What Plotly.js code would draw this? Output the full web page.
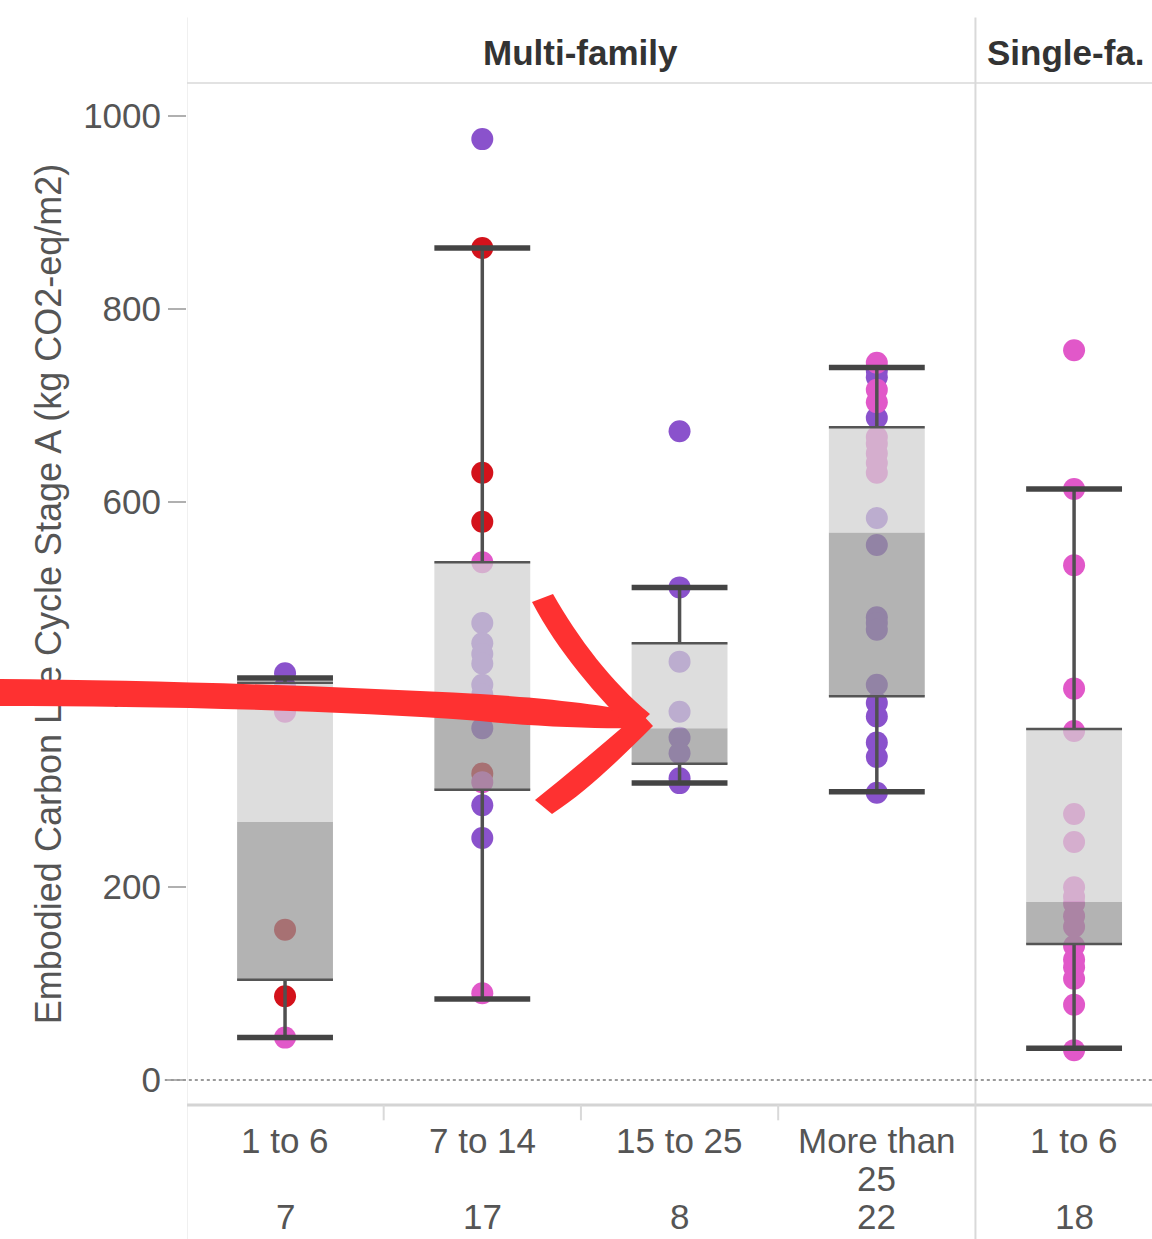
<!DOCTYPE html>
<html>
<head>
<meta charset="utf-8">
<script src="https://cdn.plot.ly/plotly-3.0.1.min.js"></script>
<style>
  html, body { margin: 0; padding: 0; background: #fff; }
  #wrap { position: relative; width: 1152px; height: 1239px; overflow: hidden; }
  #chart { position: absolute; left: 0; top: 0; width: 1152px; height: 1239px; }
  #arrow { position: absolute; left: 0; top: 0; pointer-events: none; }
</style>
</head>
<body>
<div id="wrap">
  <div id="chart"></div>
  <svg id="arrow" width="1152" height="1239" viewBox="0 0 1152 1239">
    <path d="M0,679 C150,680 330,686 480,694 C560,699 610,706 646,714 L642,728 C600,729 540,727 480,721 C330,710 150,706 0,706 Z" fill="#fe3131"/>
    <path d="M532,602 L553,594 C578,638 612,683 650,714 L632,731 C598,697 558,652 532,602 Z" fill="#fe3131"/>
    <path d="M535,800 C575,768 610,738 640,712 L653,726 C621,758 586,792 552,814 Z" fill="#fe3131"/>
  </svg>
</div>
<script>
// ---- data ----
const categories = ["1 to 6", "7 to 14", "15 to 25", "More than 25", "1 to 6"];
const groups = ["Multi-family", "Multi-family", "Multi-family", "Multi-family", "Single-family"];
const headerLabels = ["Multi-family", "Single-fa."];
const counts = [7, 17, 8, 22, 18];

const lowerWhisker = [44, 84, 308, 299, 33];
const q1 = [104, 301, 328, 398, 141];
const median = [268, 397, 365, 568, 185];
const q3 = [412, 537, 453, 677, 364];
const upperWhisker = [417, 863, 511, 739, 613];

// points: category index, value, colour class (P purple, R red, K pink)
const pointCategory = [
  0,0,0,0,0,0,0,
  1,1,1,1,1,1,1,1,1,1,1,1,1,1,1,1,1,
  2,2,2,2,2,2,2,2,
  3,3,3,3,3,3,3,3,3,3,3,3,3,3,3,3,3,3,3,3,3,3,
  4,4,4,4,4,4,4,4,4,4,4,4,4,4,4,4,4,4
];
const pointValue = [
  422, 408, 400, 382, 156, 87, 44,
  976, 863, 630, 579, 537, 474, 453, 442, 432, 410, 400, 365, 318, 309, 285, 251, 90,
  673, 511, 434, 382, 355, 339, 313, 308,
  744, 736, 729, 716, 703, 687, 667, 660, 650, 640, 630, 583, 555, 480, 474, 467, 410, 391, 377, 350, 335, 298,
  757, 613, 534, 406, 362, 276, 247, 200, 190, 183, 170, 159, 139, 125, 117, 105, 78, 31
];
const pointColor = [
  "P","P","K","K","R","R","K",
  "P","R","R","R","K","P","P","P","P","P","P","P","R","K","P","P","K",
  "P","P","P","P","P","P","P","P",
  "K","P","P","K","K","P","K","K","K","K","K","P","P","P","P","P","P","P","P","P","P","P",
  "K","K","K","K","K","K","K","K","K","K","K","K","K","K","K","K","K","K"
];
const colorMap = { P: "#8a52cc", R: "#d3121b", K: "#e158c9" };

// ---- styles ----
const FONT = "Liberation Sans, Arial, sans-serif";
const HALF = 0.243;   // half box width (category units)

const traces = [];
["P", "R", "K"].forEach(c => {
  const xs = [], ys = [];
  pointValue.forEach((v, i) => { if (pointColor[i] === c) { xs.push(pointCategory[i]); ys.push(v); } });
  traces.push({
    type: "scatter", mode: "markers", x: xs, y: ys, hoverinfo: "y",
    marker: { size: 22, color: colorMap[c], line: { width: 0 } }, showlegend: false
  });
});

function rects(lo, hi) {
  const xs = [], ys = [];
  lo.forEach((l, i) => {
    xs.push(i - HALF, i + HALF, i + HALF, i - HALF, i - HALF, null);
    ys.push(l, l, hi[i], hi[i], l, null);
  });
  return { xs, ys };
}
const dark = rects(q1, median);
const light = rects(median, q3);
traces.push({ type: "scatter", mode: "lines", x: dark.xs, y: dark.ys, fill: "toself",
  fillcolor: "rgba(150,150,150,0.72)", line: { width: 0 }, hoverinfo: "skip", showlegend: false });
traces.push({ type: "scatter", mode: "lines", x: light.xs, y: light.ys, fill: "toself",
  fillcolor: "rgba(208,208,208,0.72)", line: { width: 0 }, hoverinfo: "skip", showlegend: false });

// whisker stems
const stemX = [], stemY = [];
categories.forEach((_, i) => {
  stemX.push(i, i, null, i, i, null);
  stemY.push(q3[i], upperWhisker[i], null, lowerWhisker[i], q1[i], null);
});
traces.push({ type: "scatter", mode: "lines", x: stemX, y: stemY,
  line: { color: "#505050", width: 3.5 }, hoverinfo: "skip", showlegend: false });

// box edges (q1, q3)
const edgeX = [], edgeY = [];
categories.forEach((_, i) => {
  edgeX.push(i - HALF, i + HALF, null, i - HALF, i + HALF, null);
  edgeY.push(q1[i], q1[i], null, q3[i], q3[i], null);
});
traces.push({ type: "scatter", mode: "lines", x: edgeX, y: edgeY,
  line: { color: "#555555", width: 2.5 }, hoverinfo: "skip", showlegend: false });

// caps
const capX = [], capY = [];
categories.forEach((_, i) => {
  capX.push(i - HALF, i + HALF, null, i - HALF, i + HALF, null);
  capY.push(lowerWhisker[i], lowerWhisker[i], null, upperWhisker[i], upperWhisker[i], null);
});
traces.push({ type: "scatter", mode: "lines", x: capX, y: capY,
  line: { color: "#444444", width: 5.5 }, hoverinfo: "skip", showlegend: false });

// ---- annotations ----
const annotations = [];
function wrapLines(s) {
  if (s.length > 9) { const k = s.lastIndexOf(" "); return [s.slice(0, k), s.slice(k + 1)]; }
  return [s];
}
const labelFont = { family: FONT, size: 35, color: "#555" };
categories.forEach((c, i) => {
  wrapLines(c).forEach((ln, li) => {
    annotations.push({ x: i, y: 0, xref: "x", yref: "paper", text: ln, showarrow: false,
      xanchor: "center", yanchor: "middle", yshift: -35 - li * 38, font: labelFont });
  });
  annotations.push({ x: i, y: 0, xref: "x", yref: "paper", text: String(counts[i]), showarrow: false,
    xanchor: "center", yanchor: "middle", yshift: -111, font: labelFont });
});
// group headers
const uniq = [...new Set(groups)];
uniq.forEach((g, gi) => {
  const idx = groups.map((v, i) => v === g ? i : -1).filter(i => i >= 0);
  const truncated = headerLabels[gi] !== g;
  const cx = truncated ? Math.min(...idx) - 0.5 : (Math.min(...idx) + Math.max(...idx)) / 2;
  annotations.push({ x: cx, y: 1, xref: "x", yref: "paper", text: "<b>" + headerLabels[gi] + "</b>",
    showarrow: false, xanchor: truncated ? "left" : "center", yanchor: "middle",
    xshift: truncated ? 10 : 0, yshift: 31,
    font: { family: FONT, size: 35, color: "#333" } });
});

// ---- frame shapes ----
const shapes = [];
const lineCol = "#d9d9d9";
shapes.push({ type: "line", xref: "paper", yref: "paper", x0: 0, x1: 1, y0: 1, y1: 1,
  line: { color: "#e2e2e2", width: 2 } });
shapes.push({ type: "line", xref: "paper", yref: "paper", x0: 0, x1: 1, y0: 0, y1: 0,
  line: { color: "#d4d4d4", width: 3 } });
// panel dividers
const dividers = [-0.5];
for (let i = 1; i < groups.length; i++) if (groups[i] !== groups[i - 1]) dividers.push(i - 0.5);
dividers.forEach(d => shapes.push({ type: "line", xref: "x", yref: "paper", x0: d, x1: d,
  y0: -0.14, y1: 1.064, line: { color: lineCol, width: 2 } }));
// small separators between categories in same group
for (let i = 1; i < groups.length; i++) if (groups[i] === groups[i - 1])
  shapes.push({ type: "line", xref: "x", yref: "paper", x0: i - 0.5, x1: i - 0.5, y0: 0, y1: -0.015,
    line: { color: lineCol, width: 2 } });
// dotted zero line
shapes.push({ type: "line", xref: "paper", yref: "y", x0: -0.023, x1: 1, y0: 0, y1: 0,
  line: { color: "#9a9a9a", width: 2, dash: "dot" } });

const layout = {
  width: 1152, height: 1239,
  margin: { l: 187, r: 0, t: 83, b: 134, pad: 0 },
  paper_bgcolor: "#ffffff", plot_bgcolor: "#ffffff",
  showlegend: false,
  xaxis: { range: [-0.497, 4.395], showticklabels: false, showgrid: false, zeroline: false,
    showline: false, ticks: "", fixedrange: true },
  yaxis: { range: [-25.9, 1034.2], tickvals: [0, 200, 400, 600, 800, 1000],
    ticks: "outside", ticklen: 18, tickwidth: 2, tickcolor: "#b0b0b0",
    showgrid: false, zeroline: false, showline: false, fixedrange: true,
    tickfont: { family: FONT, size: 35, color: "#555" },
    title: { text: "Embodied Carbon Life Cycle Stage A (kg CO2-eq/m2)", standoff: 10,
      font: { family: FONT, size: 36, color: "#555" } } },
  annotations: annotations,
  shapes: shapes
};

Plotly.newPlot("chart", traces, layout, { displayModeBar: false, staticPlot: true });
</script>
</body>
</html>
